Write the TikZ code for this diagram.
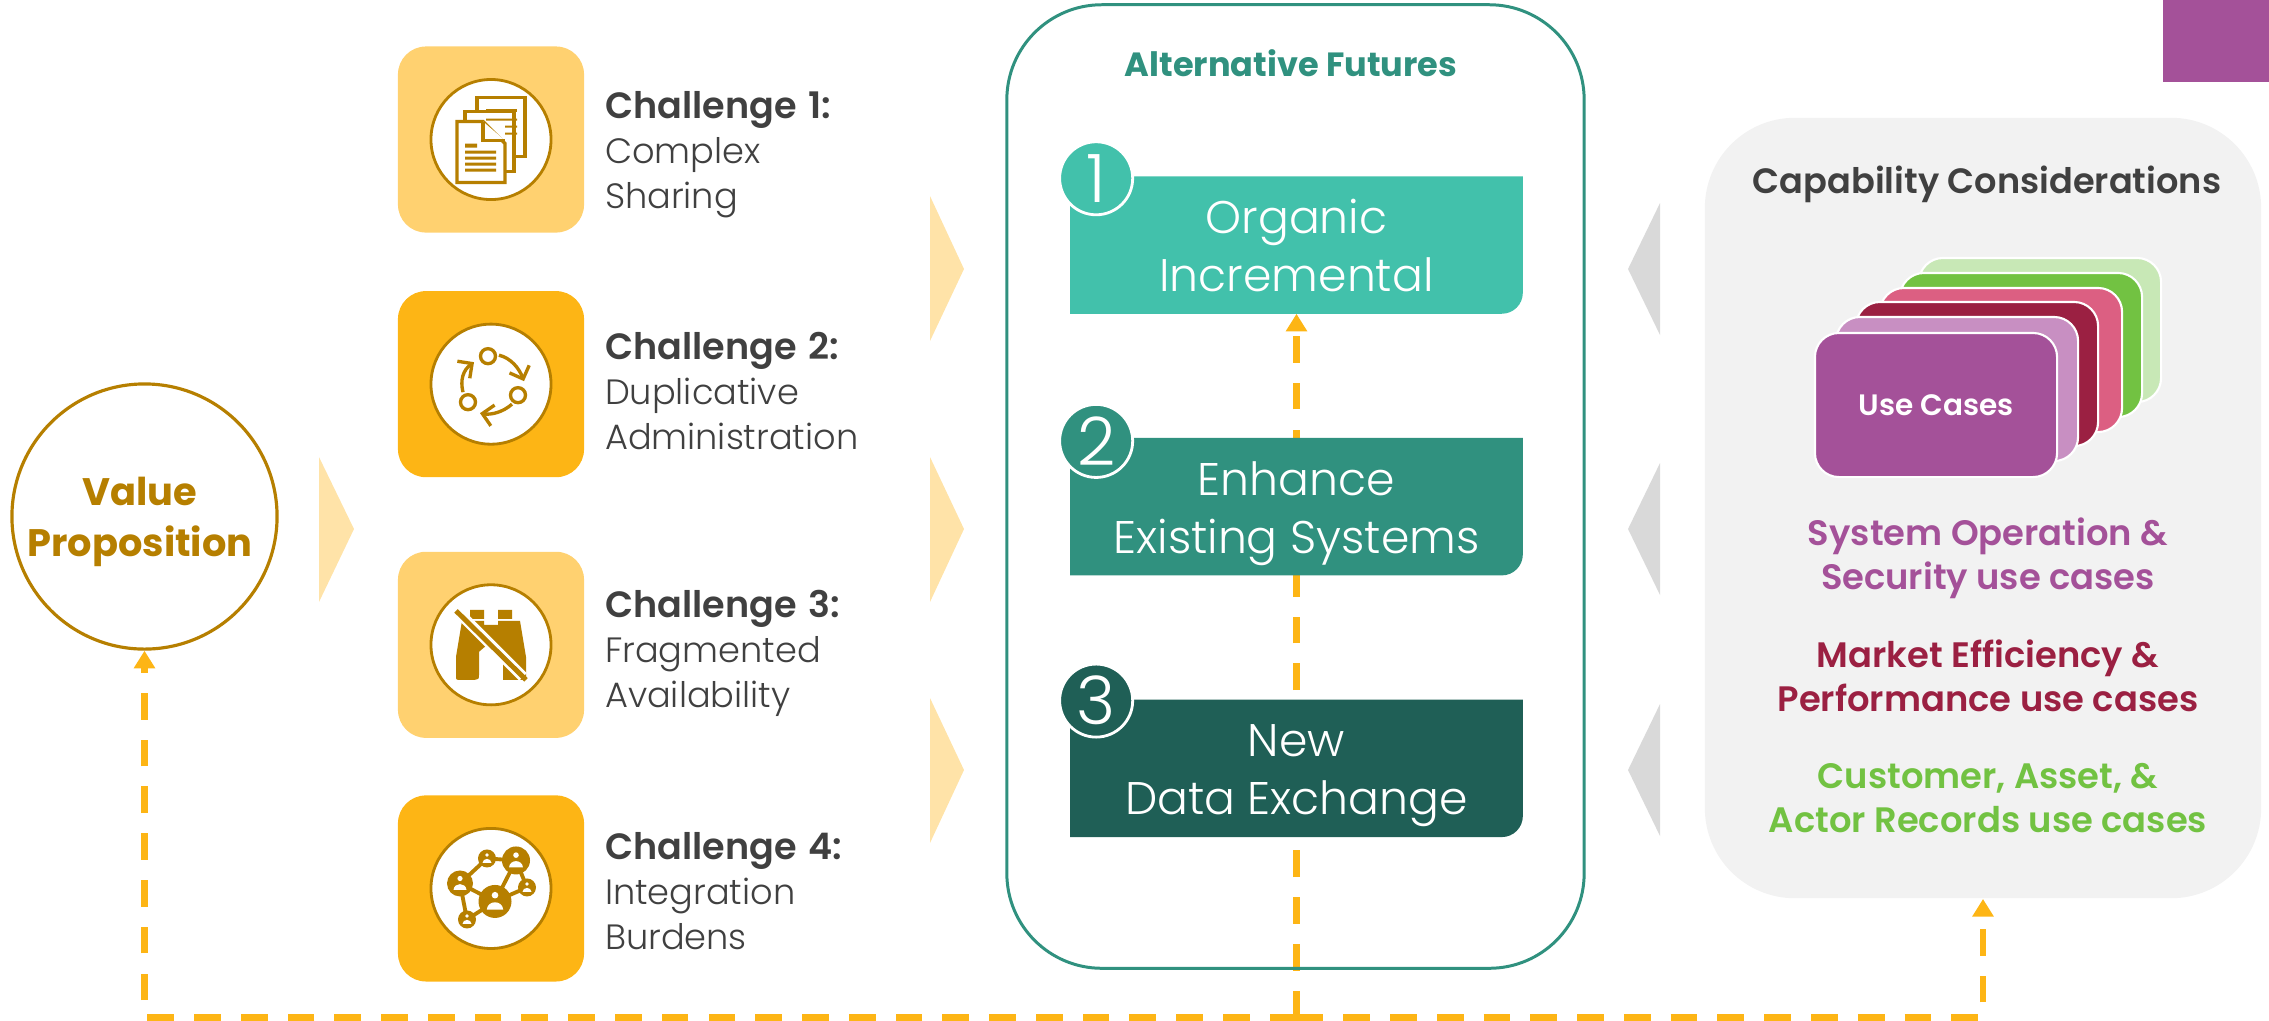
\documentclass[tikz,border=0pt]{standalone}
\usepackage{fontspec}
\usepackage{tikz}
\usetikzlibrary{calc, arrows, arrows.meta, backgrounds}
\setmainfont{Poppins}
\newfontfamily\thinface{Poppins Light}
\newfontfamily\boldface{Poppins SemiBold}
\definecolor{gold}{HTML}{B67F00}
\definecolor{amber}{HTML}{FDB515}
\definecolor{paleamber}{HTML}{FFD170}
\definecolor{chevamber}{HTML}{FFE3A8}
\definecolor{chevgray}{HTML}{D9D9D9}
\definecolor{inktext}{HTML}{404040}
\definecolor{panelgray}{HTML}{F2F2F2}
\definecolor{tealA}{HTML}{42C1AB}
\definecolor{tealB}{HTML}{30917F}
\definecolor{tealC}{HTML}{1F5F56}
\definecolor{plum}{HTML}{A45199}
\definecolor{paleplum}{HTML}{C88FC2}
\definecolor{wine}{HTML}{9B2042}
\definecolor{rose}{HTML}{DC5F82}
\definecolor{leaf}{HTML}{72C242}
\definecolor{paleleaf}{HTML}{C8E8B6}
\newcommand{\chalhead}{\fontsize{10.4}{12.8}\selectfont\boldface}
\tikzstyle{tile}=[rounded corners=.28cm, minimum size=1.86cm, inner sep=0]
\tikzstyle{ring}=[circle, draw=gold, line width=.8pt, fill=white, minimum size=1.2cm, inner sep=0]
\tikzstyle{chal}=[text=inktext, align=left, text width=2.9cm, inner sep=0, font=\fontsize{10}{12.8}\selectfont\thinface]
\tikzstyle{option} = [text=white, align=center, minimum width=4.51cm, minimum height=1.36cm, inner sep=0,
text height=30pt, text depth=3.6pt, font=\fontsize{13}{16.5}\selectfont\thinface]
\tikzstyle{badge}=[circle, draw=white, line width=.8pt, minimum size=.73cm, inner sep=0, text=white,
font=\fontsize{19}{19}\selectfont\thinface]
\tikzstyle{card}=[draw=white, line width=.6pt, rounded corners=.24cm, minimum width=2.42cm, minimum height=1.44cm, inner sep=0]
\tikzstyle{usecase}=[align=center, inner sep=0, font=\fontsize{10.05}{12.5}\selectfont\boldface]
\tikzstyle{flow}=[draw=amber, line width=1.9pt, dash pattern=on 7.6pt off 5.7pt, -{Triangle[length=5pt,width=5.8pt]}]
\tikzstyle{ink}=[draw=gold, line width=.95pt, fill=white]
\newcommand{\netnode}[3]{%
  \fill[gold] (#1,#2) circle (#3);
  \fill[white] (#1,#2-.38*#3) circle (.2*#3);
  \fill[white] (#1-.5*#3,#2+.5*#3) -- (#1+.5*#3,#2+.5*#3) .. controls (#1+.45*#3,#2-.1*#3) and (#1-.45*#3,#2-.1*#3) .. (#1-.5*#3,#2+.5*#3) -- cycle;
}

\begin{document}
\begin{tikzpicture}[x=.01cm,y=-.01cm,node distance=2.44cm]
  \useasboundingbox (0,0) rectangle (2269,1020);
  \node [circle, draw=gold, line width=.9pt, minimum size=2.65cm, inner sep=0] (value) at (144.5,516.5) {};
  \node [text=gold, align=center, font=\fontsize{10.9}{14.5}\selectfont\bfseries] (valuetext) at (140,522) {Value\\Proposition};
  % challenges
  \node [tile, fill=paleamber] (t1) at (491,139.5) {};
  \node [tile, fill=amber] (t2) [below of=t1, node distance=2.445cm] {};
  \node [tile, fill=paleamber] (t3) [below of=t2, node distance=2.605cm] {};
  \node [tile, fill=amber] (t4) [below of=t3, node distance=2.435cm] {};
  \node [ring] (r1) at (t1.center) {};
  \node [ring] (r2) at (t2.center) {};
  \node [ring] (r3) at (t3.center) {};
  \node [ring] (r4) at (t4.center) {};
  \node [chal, yshift=-.15cm] (l1) [right of=t1, node distance=2.59cm] {{\chalhead Challenge 1:}\\Complex\\Sharing};
  \node [chal, yshift=-.07cm] (l2) [right of=t2, node distance=2.59cm] {{\chalhead Challenge 2:}\\Duplicative\\Administration};
  \node [chal, yshift=-.09cm] (l3) [right of=t3, node distance=2.59cm] {{\chalhead Challenge 3:}\\Fragmented\\Availability};
  \node [chal, yshift=-.03cm] (l4) [right of=t4, node distance=2.59cm] {{\chalhead Challenge 4:}\\Integration\\Burdens};
  % documents
  \begin{scope}[shift={(r1.center)}]
    \draw[ink] (-14,-42) rectangle (34,17);
    \fill[gold] (-5,-31) rectangle (26,-28);
    \draw[ink] (-26,-28) rectangle (23,32);
    \fill[gold] (-5,-21) rectangle (26,-19) (14,-14) rectangle (26,-12) (14,-7) rectangle (26,-5);
    \draw[ink] (-34,-18) -- (-8,-18) -- (14,4) -- (14,43) -- (-34,43) -- cycle;
    \draw[ink] (-8,-18) -- (-8,1) -- (14,1);
    \fill[gold] (-26,4) rectangle (-14,8) (-26,11) rectangle (5,14) (-26,17) rectangle (5,20) (-26,23) rectangle (5,26) (-26,29) rectangle (5,32);
  \end{scope}
  % cycle
  \begin{scope}[shift={(r2.center)}]
    \draw[ink] (-3,-28) circle (7.5);
    \draw[ink] (27,11) circle (7.5);
    \draw[ink] (-23,18) circle (7.5);
    \draw[gold, line width=.95pt, -{Straight Barb[length=3pt,width=6pt]}] (8,-29) .. controls (20,-26) and (28,-16) .. (33,-3);
    \draw[gold, line width=.95pt, -{Straight Barb[length=3pt,width=6pt]}] (21,20) .. controls (12,28) and (0,31) .. (-11,29);
    \draw[gold, line width=.95pt, -{Straight Barb[length=3pt,width=6pt]}] (-28,8) .. controls (-31,-4) and (-28,-14) .. (-17,-22);
  \end{scope}
  % binoculars
  \begin{scope}[shift={(r3.center)}]
    \fill[gold] (-21,-35) rectangle (-7,-26) (7,-35) rectangle (21,-26);
    \fill[gold] (-29,-24) -- (-7,-24) -- (-7,-20) -- (7,-20) -- (7,-24) -- (29,-24) -- (35,12) -- (35,35) -- (12,35) -- (12,7) -- (5,1) -- (-5,1) -- (-12,7) -- (-12,30) .. controls (-12,34) .. (-16,35) -- (-31,35) .. controls (-35,35) .. (-35,31) -- (-35,12) -- cycle;
    \draw[white, line width=3pt] (-33,-33) -- (32,32);
    \draw[gold, line width=1.4pt] (-35,-34) -- (35,35);
  \end{scope}
  % network
  \begin{scope}[shift={(r4.center)}]
    \draw[gold, line width=1.1pt] (-31,-5) -- (-4,-30) -- (25,-28) -- (4,13) -- (-24,31) -- (-31,-5) -- (4,13) -- (36,-1) -- (25,-28);
    \netnode{4}{13}{16.5}
    \netnode{-31}{-5}{13}
    \netnode{25}{-28}{14}
    \netnode{-4}{-30}{9}
    \netnode{36}{-1}{9}
    \netnode{-24}{31}{9}
  \end{scope}
  % chevrons
  \fill[chevamber] (319,457) -- (354,529) -- (319,602) -- cycle;
  \fill[chevamber] (930,196) -- (964,269) -- (930,341) -- cycle;
  \fill[chevamber] (930,457) -- (964,529) -- (930,602) -- cycle;
  \fill[chevamber] (930,698) -- (964,770) -- (930,843) -- cycle;
  \fill[chevgray] (1660,203) -- (1628,269) -- (1660,335) -- cycle;
  \fill[chevgray] (1660,463) -- (1628,529) -- (1660,595) -- cycle;
  \fill[chevgray] (1660,704) -- (1628,770) -- (1660,836) -- cycle;
  % futures
  \node [draw=tealB, line width=.85pt, rounded corners=.95cm, minimum width=5.77cm, minimum height=9.63cm] (futures) at (1295.5,486.5) {};
  \node [text=tealB, font=\fontsize{9.55}{12}\selectfont\bfseries] (futurestitle) at (1291,63) {Alternative Futures};
  \node [option] (o1) at (1296.5,245) {Organic\\Incremental};
  \node [option] (o2) [below of=o1, node distance=2.615cm] {Enhance\\Existing Systems};
  \node [option] (o3) [below of=o2, node distance=2.615cm] {New\\Data Exchange};
  \coordinate (hub) at (1296.5,1017.5);
  \begin{scope}[on background layer]
    \draw[flow] (hub) -- (o1.south);
    \draw[flow] (hub) -| (value.south);
    \fill[tealA] (o1.north west) -- (o1.north east) -- ([yshift=.21cm]o1.south east) arc[start angle=0,end angle=-90,radius=.21cm] -- (o1.south west) -- cycle;
    \fill[tealB] (o2.north west) -- (o2.north east) -- ([yshift=.21cm]o2.south east) arc[start angle=0,end angle=-90,radius=.21cm] -- (o2.south west) -- cycle;
    \fill[tealC] (o3.north west) -- (o3.north east) -- ([yshift=.21cm]o3.south east) arc[start angle=0,end angle=-90,radius=.21cm] -- (o3.south west) -- cycle;
  \end{scope}
  \node [badge, fill=tealA] (b1) at ($(o1.north west)+(26,2)$) {1};
  \node [badge, fill=tealB] (b2) at ($(o2.north west)+(26,3)$) {2};
  \node [badge, fill=tealC] (b3) at ($(o3.north west)+(26,1)$) {3};
  % capability
  \node [fill=panelgray, rounded corners=.9cm, minimum width=5.56cm, minimum height=7.8cm] (cap) at (1983,508) {};
  \draw[flow] (hub) -| (cap.south);
  \node [text=inktext, font=\fontsize{10}{12}\selectfont\boldface] (captitle) at (1987,184) {Capability Considerations};
  \node [card, fill=paleleaf] (c6) at (2040,330) {};
  \node [card, fill=leaf] (c5) at (2021,345) {};
  \node [card, fill=rose] (c4) at (2001,360) {};
  \node [card, fill=wine] (c3) at (1977,374) {};
  \node [card, fill=paleplum] (c2) at (1957,389) {};
  \node [card, fill=plum, text=white, font=\fontsize{8.4}{10}\selectfont\boldface] (c1) at (1936,405) {Use Cases};
  \node [usecase, text=plum] (u1) at (1988,558) {System Operation \&\\Security use cases};
  \node [usecase, text=wine] (u2) at (1988,676) {Market Efficiency \&\\Performance use cases};
  \node [usecase, text=leaf] (u3) at (1988,798) {Customer, Asset, \&\\Actor Records use cases};
  \node [fill=plum, minimum width=1.06cm, minimum height=.82cm, inner sep=0] (corner) at (2216,41) {};
\end{tikzpicture}
\end{document}
